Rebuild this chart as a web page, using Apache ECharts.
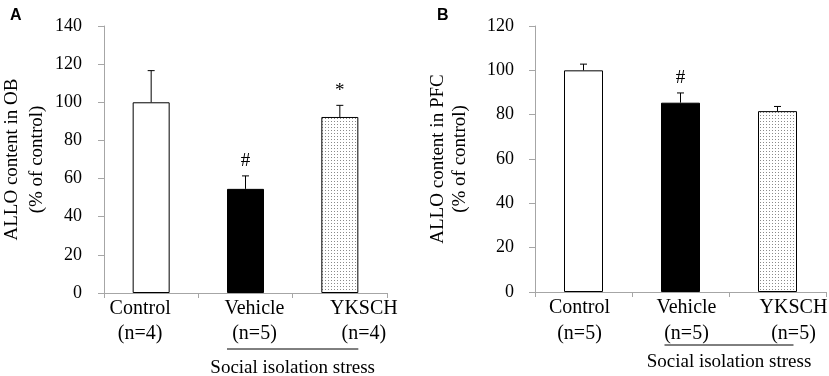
<!DOCTYPE html>
<html>
<head>
<meta charset="utf-8">
<script src="https://cdn.jsdelivr.net/npm/echarts@6/dist/echarts.min.js"></script>
<style>html,body{margin:0;padding:0;background:#fff;}#c{width:829px;height:376px;}</style>
</head>
<body>
<div id="c"></div>
<script>
const categoriesA = ['Control\n(n=4)', 'Vehicle\n(n=5)', 'YKSCH\n(n=4)'];
const valuesA = [100, 54.6, 92.3];
const errorsA = [16.6, 6.8, 6.1];
const marksA = ['', '#', '*'];
const categoriesB = ['Control\n(n=5)', 'Vehicle\n(n=5)', 'YKSCH\n(n=5)'];
const valuesB = [100, 85.4, 81.6];
const errorsB = [2.8, 4.4, 2.1];
const marksB = ['', '#', ''];
const yMaxA = 140, yMaxB = 120, yStep = 20;
const yNameA = 'ALLO content in OB\n(% of control)';
const yNameB = 'ALLO content in PFC\n(% of control)';
const groupLabel = 'Social isolation stress';

const FONT = '"Liberation Serif", "Times New Roman", serif';
const AXIS = '#a6a6a6';

const pc = document.createElement('canvas');
pc.width = 3; pc.height = 3;
const pctx = pc.getContext('2d');
pctx.fillStyle = '#fff'; pctx.fillRect(0, 0, 3, 3);
pctx.fillStyle = '#8a8a8a'; pctx.fillRect(1, 1, 1, 1);
const fills = ['#ffffff', '#000000', { image: pc, repeat: 'repeat' }];

function barData(vals) {
  return vals.map((v, i) => ({ value: v, itemStyle: { color: fills[i], borderColor: '#000', borderWidth: 1 } }));
}
function errSeries(idx, vals, errs, marks) {
  return {
    type: 'custom', xAxisIndex: idx, yAxisIndex: idx, z: 5,
    data: vals.map((v, i) => [i, v, errs[i]]),
    renderItem: function (params, api) {
      const x = api.value(0), v = api.value(1), e = api.value(2);
      const b = api.coord([x, v]), t = api.coord([x, v + e]);
      const st = { stroke: '#000', lineWidth: 1 };
      const ch = [
        { type: 'line', shape: { x1: b[0], y1: b[1], x2: t[0], y2: t[1] }, style: st },
        { type: 'line', shape: { x1: t[0] - 3.5, y1: t[1], x2: t[0] + 3.5, y2: t[1] }, style: st }
      ];
      const m = marks[params.dataIndex];
      if (m) ch.push({ type: 'text', style: { text: m, x: t[0], y: t[1] - 5, align: 'center', verticalAlign: 'bottom', font: '19px ' + FONT, fill: '#000' } });
      return { type: 'group', children: ch };
    }
  };
}
// horizontal offsets of the category labels relative to their bars (as in the original figure)
function xAxis(idx, cats, lh, shifts) {
  const rich = {};
  shifts.forEach((s, i) => {
    rich['s' + i] = {
      fontFamily: FONT, fontSize: 20, color: '#000', lineHeight: lh,
      padding: s >= 0 ? [0, 0, 0, 2 * s] : [0, -2 * s, 0, 0]
    };
  });
  return {
    type: 'category', gridIndex: idx, data: cats,
    axisLine: { lineStyle: { color: AXIS, width: 1 } },
    axisTick: { show: true, length: 5, lineStyle: { color: AXIS } },
    axisLabel: {
      fontFamily: FONT, fontSize: 20, color: '#000', margin: 3, lineHeight: lh, interval: 0,
      formatter: function (val, i) {
        return val.split('\n').map(l => '{s' + i + '|' + l + '}').join('\n');
      },
      rich: rich
    }
  };
}
function yAxis(idx, max, name, gap, lm, nlh) {
  return {
    type: 'value', gridIndex: idx, min: 0, max: max, interval: yStep,
    name: name, nameLocation: 'middle', nameGap: gap, nameRotate: 90,
    nameTextStyle: { fontFamily: FONT, fontSize: 19, color: '#000', lineHeight: nlh },
    axisLine: { show: true, lineStyle: { color: AXIS, width: 1 } },
    axisTick: { show: true, length: 6, lineStyle: { color: AXIS } },
    splitLine: { show: false },
    axisLabel: { fontFamily: FONT, fontSize: 18, color: '#000', margin: lm }
  };
}

const chart = echarts.init(document.getElementById('c'), null, { renderer: 'canvas' });
chart.setOption({
  animation: false,
  backgroundColor: '#fff',
  title: [
    { text: 'A', left: 5, top: 3, textStyle: { fontFamily: 'Liberation Sans, Arial, sans-serif', fontWeight: 'bold', fontSize: 16, color: '#000' } },
    { text: 'B', left: 432, top: 3, textStyle: { fontFamily: 'Liberation Sans, Arial, sans-serif', fontWeight: 'bold', fontSize: 16, color: '#000' } }
  ],
  grid: [
    { left: 104, right: 442, top: 26, bottom: 83, containLabel: false, outerBoundsMode: 'none' },
    { left: 535, right: 3, top: 26, bottom: 84, containLabel: false, outerBoundsMode: 'none' }
  ],
  xAxis: [xAxis(0, categoriesA, 25, [-11, 9, 24]), xAxis(1, categoriesB, 26, [-4, 6, 16])],
  yAxis: [yAxis(0, yMaxA, yNameA, 54, 22, 25), yAxis(1, yMaxB, yNameB, 64, 21, 22)],
  series: [
    { type: 'bar', xAxisIndex: 0, yAxisIndex: 0, barWidth: 37, data: barData(valuesA) },
    errSeries(0, valuesA, errorsA, marksA),
    { type: 'bar', xAxisIndex: 1, yAxisIndex: 1, barWidth: 39, data: barData(valuesB) },
    errSeries(1, valuesB, errorsB, marksB)
  ]
});

function bracket(idx, half, dyLine, dyText) {
  const p1 = chart.convertToPixel({ xAxisIndex: idx, yAxisIndex: idx }, [1, 0]);
  const p2 = chart.convertToPixel({ xAxisIndex: idx, yAxisIndex: idx }, [2, 0]);
  const x1 = p1[0] - half, x2 = p2[0] + half, y = p1[1];
  return [
    { type: 'line', shape: { x1: x1, y1: y + dyLine, x2: x2, y2: y + dyLine }, style: { stroke: '#000', lineWidth: 1 } },
    { type: 'text', style: { text: groupLabel, x: (x1 + x2) / 2, y: y + dyText, align: 'center', verticalAlign: 'middle', font: '19px ' + FONT, fill: '#000' } }
  ];
}
chart.setOption({ graphic: [].concat(bracket(0, 18.5, 56, 75), bracket(1, 16, 53, 70)) });
</script>
</body>
</html>
